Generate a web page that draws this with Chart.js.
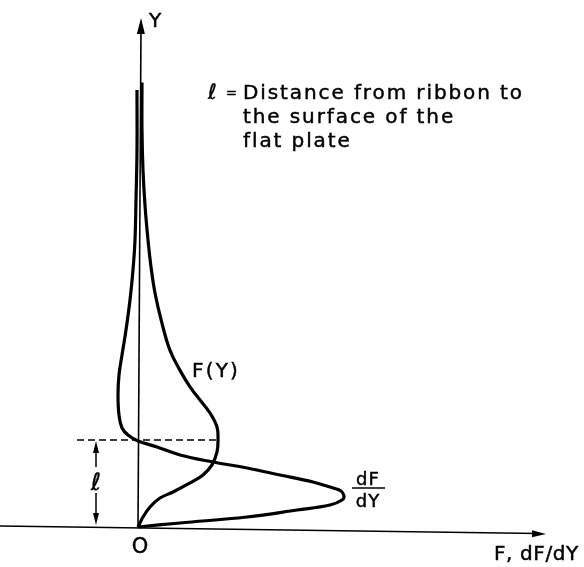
<!DOCTYPE html>
<html>
<head>
<meta charset="utf-8">
<script src="https://cdn.jsdelivr.net/npm/chart.js@4"></script>
<style>
  html, body { margin: 0; padding: 0; background: #fff; }
  #plot { display: block; }
</style>
</head>
<body>
<canvas id="plot" width="584" height="567"></canvas>
<script>
// Y is measured in units of l (ribbon height); F and dF/dY in arbitrary units.
// F(Y): zero at the plate, maximum at Y = l, decaying back to the axis.
const fVals = [0, 0.05, 0.12, 0.22, 0.35, 0.52, 0.65, 0.74, 0.79, 0.80, 0.79, 0.72, 0.62, 0.52,
               0.42, 0.32, 0.24, 0.17, 0.13, 0.10, 0.07, 0.05, 0.04, 0.04];
const fYs   = [0, 0.115, 0.23, 0.333, 0.402, 0.506, 0.598, 0.713, 0.862, 1.0, 1.149, 1.31, 1.46, 1.61,
               1.80, 2.03, 2.34, 2.69, 2.99, 3.30, 3.70, 4.10, 4.56, 5.11];

// dF/dY: sharp positive lobe below l, crossing zero at Y = l, small negative tail above.
const dVals = [0, 0.42, 1.09, 1.59, 1.92, 2.04, 2.06, 2.03, 1.95, 1.75, 1.42, 1.09, 0.75, 0.42,
               0.19, 0, -0.10, -0.16, -0.19, -0.20, -0.19, -0.16, -0.12, -0.08, -0.05, -0.03,
               -0.02, -0.01, -0.01];
const dYs   = [0, 0.046, 0.115, 0.195, 0.253, 0.31, 0.356, 0.414, 0.448, 0.517, 0.598, 0.678, 0.747, 0.828,
               0.92, 0.989, 1.057, 1.138, 1.287, 1.517, 1.747, 1.977, 2.264, 2.609, 2.954, 3.299,
               3.759, 4.333, 5.023];

const ribbonHeight = 1;   // Y = l
const noteLines = ['Distance from ribbon to', 'the surface of the', 'flat plate'];

const toPoints = (xs, ys) => xs.map((v, i) => ({ x: v, y: ys[i] }));

const FONT = '"DejaVu Sans", sans-serif';

function arrowHead(ctx, tipX, tipY, fromX, fromY, len, half) {
  const a = Math.atan2(tipY - fromY, tipX - fromX);
  const bx = tipX - len * Math.cos(a), by = tipY - len * Math.sin(a);
  ctx.beginPath();
  ctx.moveTo(tipX, tipY);
  ctx.lineTo(bx + half * Math.sin(a), by - half * Math.cos(a));
  ctx.lineTo(bx - half * Math.sin(a), by + half * Math.cos(a));
  ctx.closePath();
  ctx.fill();
}

function seg(ctx, x1, y1, x2, y2) {
  ctx.beginPath();
  ctx.moveTo(x1, y1);
  ctx.lineTo(x2, y2);
  ctx.stroke();
}

// lettering is a bit heavier than the regular face, so outline it lightly
function label(ctx, text, px, py) {
  ctx.fillText(text, px, py);
  ctx.strokeText(text, px, py);
}

// axes, the l marker and all the lettering
const sketch = {
  id: 'sketch',
  beforeDatasetsDraw(chart) {
    const { ctx, scales: { x, y } } = chart;
    const X = v => x.getPixelForValue(v), Y = v => y.getPixelForValue(v);
    ctx.save();
    ctx.strokeStyle = '#000';
    ctx.fillStyle = '#000';
    ctx.lineCap = 'butt';

    // Y axis (hand drawn, leans a little)
    ctx.lineWidth = 1.6;
    seg(ctx, X(0), Y(0), X(0.03), Y(5.75));
    arrowHead(ctx, X(0.03), Y(5.85), X(0), Y(0), 16, 4);

    // F axis
    seg(ctx, X(-1.4), Y(0.011), X(4.0), Y(-0.075));
    arrowHead(ctx, X(4.08), Y(-0.08), X(-1.4), Y(0.011), 14, 3.5);

    // dashed line at Y = l
    ctx.lineWidth = 1.4;
    ctx.setLineDash([7, 4]);
    seg(ctx, X(-0.61), Y(ribbonHeight), X(0.80), Y(ribbonHeight));
    ctx.setLineDash([]);

    // dimension line for l, broken around its label
    const dx = X(-0.42);
    ctx.lineWidth = 1.5;
    seg(ctx, dx, Y(ribbonHeight) + 8, dx, Y(0.69));
    seg(ctx, dx, Y(0.39), dx, Y(0) - 8);
    arrowHead(ctx, dx, Y(ribbonHeight) + 1, dx, Y(0), 12, 3);
    arrowHead(ctx, dx, Y(0) - 2, dx, Y(ribbonHeight), 12, 3);
    ctx.restore();
  },
  afterDatasetsDraw(chart) {
    const { ctx, scales: { x, y } } = chart;
    const X = v => x.getPixelForValue(v), Y = v => y.getPixelForValue(v);
    ctx.save();
    ctx.fillStyle = '#000';
    ctx.strokeStyle = '#000';
    ctx.lineWidth = 0.45;
    ctx.textBaseline = 'alphabetic';
    ctx.textAlign = 'left';

    ctx.letterSpacing = '0px';
    ctx.font = '20px ' + FONT;
    label(ctx, 'Y', X(0.11), Y(5.747));

    // note in the upper right
    const noteTop = 4.92;
    ctx.font = '21px ' + FONT;
    label(ctx, '\u2113', X(0.70), Y(noteTop));
    ctx.font = '13px ' + FONT;
    label(ctx, '=', X(0.88), Y(noteTop + 0.02));
    ctx.font = '20px ' + FONT;
    ctx.letterSpacing = '1.9px';
    noteLines.forEach((t, i) => label(ctx, t, X(1.05), Y(noteTop - i * 0.276)));

    ctx.letterSpacing = '2.2px';
    label(ctx, 'F(Y)', X(0.54), Y(1.724));

    // dF/dY as a fraction
    ctx.textAlign = 'center';
    ctx.letterSpacing = '1px';
    ctx.font = '18px ' + FONT;
    label(ctx, 'dF', X(2.30), Y(0.483));
    label(ctx, 'dY', X(2.30), Y(0.23));
    ctx.lineWidth = 1.6;
    seg(ctx, X(2.14), Y(0.448), X(2.47), Y(0.448));
    ctx.lineWidth = 0.45;

    ctx.letterSpacing = '0px';
    ctx.font = '21px ' + FONT;
    label(ctx, 'O', X(0.02), Y(-0.30));

    ctx.font = '24px ' + FONT;
    label(ctx, '\u2113', X(-0.42), Y(0.43));

    ctx.textAlign = 'left';
    ctx.letterSpacing = '0.6px';
    ctx.font = '20px ' + FONT;
    label(ctx, 'F, dF/dY', X(3.56), Y(-0.38));
    ctx.restore();
  }
};

const curve = {
  showLine: true,
  fill: false,
  borderColor: '#000',
  borderWidth: 3.2,
  pointRadius: 0,
  tension: 0.4
};

new Chart(document.getElementById('plot'), {
  type: 'scatter',
  data: {
    datasets: [
      Object.assign({ label: 'F(Y)', data: toPoints(fVals, fYs) }, curve),
      Object.assign({ label: 'dF/dY', data: toPoints(dVals, dYs) }, curve)
    ]
  },
  options: {
    responsive: false,
    animation: false,
    layout: { padding: 0 },
    scales: {
      x: { type: 'linear', display: false, min: -1.38, max: 4.46 },
      y: { type: 'linear', display: false, min: -0.46, max: 6.057 }
    },
    plugins: {
      legend: { display: false },
      tooltip: { enabled: false }
    }
  },
  plugins: [sketch]
});
</script>
</body>
</html>
